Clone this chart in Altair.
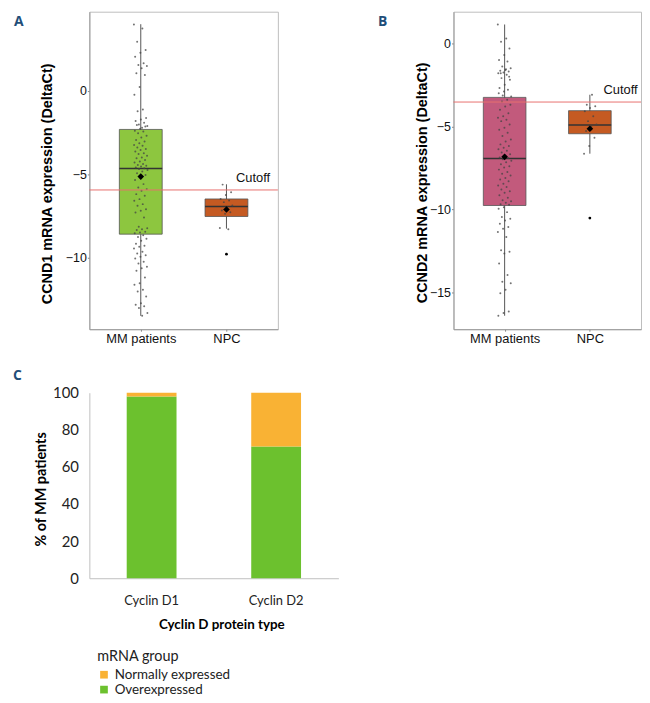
import altair as alt
import pandas as pd

# ---------------- data ----------------
groups = ["MM patients", "NPC"]

# Panel A: CCND1 (DeltaCt)
ccnd1_mm_points = [3.97, 3.73, 2.94, 2.44, 2.28, 2.04, 1.65, 1.55, 1.49, 1.35, 1.05, 0.95,
                   0.22, -0.24, -1.13, -1.23, -1.63, -1.73, -1.82, -1.92, -2.02, -2.12,
                   -2.22, -2.05, -2.15, -2.28,
                   -2.4, -2.45, -2.55, -2.7, -2.8, -2.95, -3.05, -3.15, -3.25, -3.3, -3.4,
                   -3.5, -3.55, -3.65, -3.75, -3.8, -3.9, -4.0, -4.05, -4.15, -4.25, -4.3,
                   -4.4, -4.45, -4.5, -4.55, -4.6, -4.65,
                   -4.7, -4.75, -4.85, -4.95, -5.05, -5.2, -5.35, -5.6, -5.8, -5.9, -6.0,
                   -6.2, -6.3, -6.5, -6.6, -6.8, -6.9, -7.1, -7.2, -7.3, -7.6, -8.15, -8.25,
                   -8.3, -8.35, -8.45, -8.5, -8.55,
                   -8.67, -8.77, -8.87, -9.0, -9.17, -9.3, -9.36, -9.46, -9.66, -9.76, -9.86,
                   -9.96, -10.06, -10.26, -10.36, -10.55, -10.65, -10.8, -11.2, -11.55,
                   -11.64, -11.94, -12.04, -12.34, -12.74, -12.83, -12.93, -13.03, -13.33, -13.5]
ccnd1_npc_points = [-5.63, -6.09, -6.25, -6.49, -6.58, -6.68, -6.88, -7.04, -7.18, -7.28,
                    -7.38, -8.23, -8.31]
ccnd1_q1 = [-8.6, -7.54]
ccnd1_q3 = [-2.32, -6.49]
ccnd1_median = [-4.66, -6.94]
ccnd1_mean = [-5.15, -7.12]
ccnd1_whisker_lo = [-13.5, -8.27]
ccnd1_whisker_hi = [3.99, -5.61]
ccnd1_npc_outliers = [-9.8]
ccnd1_cutoff = -5.95

# Panel B: CCND2 (DeltaCt)
ccnd2_mm_points = [1.14, 0.30, 0.10, -0.30, -0.70, -1.0, -1.09, -1.39, -1.49, -1.6, -1.65,
                   -1.69, -1.75, -1.79, -1.89, -2.09, -2.19, -2.49, -2.69, -2.79, -3.13,
                   -3.19, -1.55, -1.8, -2.0, -2.9, -3.0,
                   -3.39, -3.5, -3.69, -3.8, -3.99, -4.2, -4.38, -4.48, -4.6, -4.68, -4.88,
                   -5.08, -5.2, -5.38, -5.58, -5.78, -5.9, -6.08, -6.18, -6.28, -6.38, -6.47,
                   -6.57, -6.68, -6.75, -6.87, -6.9,
                   -6.97, -7.07, -7.15, -7.27, -7.4, -7.47, -7.6, -7.75, -7.85, -7.95, -8.1,
                   -8.2, -8.3, -8.45, -8.55, -8.65, -8.8, -8.9, -9.0, -9.15, -9.3, -9.44,
                   -9.5, -9.6, -9.68, -9.72,
                   -9.86, -9.96, -10.16, -10.46, -10.56, -10.66, -10.86, -11.06, -11.16,
                   -11.36, -11.66, -12.45, -12.55, -12.65, -13.25, -13.95, -14.35, -14.45,
                   -14.84, -15.04, -16.14, -16.24, -16.4]
ccnd2_npc_points = [-3.09, -3.69, -3.79, -3.89, -4.08, -4.38, -4.68, -4.88, -5.02, -5.28,
                    -5.68, -6.18, -6.64]
ccnd2_q1 = [-9.76, -5.44]
ccnd2_q3 = [-3.25, -4.05]
ccnd2_median = [-6.93, -4.92]
ccnd2_mean = [-6.83, -5.14]
ccnd2_whisker_lo = [-16.4, -6.64]
ccnd2_whisker_hi = [1.14, -3.09]
ccnd2_npc_outliers = [-10.52]
ccnd2_cutoff = -3.53

# Panel C
cyclin_types = ["Cyclin D1", "Cyclin D2"]
mrna_groups = ["Normally expressed", "Overexpressed"]
pct_overexpressed = [98, 71]
pct_normally = [2, 29]

# ---------------- styles ----------------
FONT_AB = "Liberation Sans"
FONT_C = "Lato"
LABEL_COLOR = "#1F4E79"
ccnd1_colors = ["#8DC63F", "#C55A22"]
ccnd2_colors = ["#C25A7C", "#C55A22"]
c_colors = ["#F9B234", "#6CC12E"]
CUTOFF_COLOR = "#E8706E"
BOX_HALF = 0.25
JITTER = 0.16
PANEL_H = 320


def box_panel(mm_pts, npc_pts, q1, q3, med, mean, lo, hi, outliers, cutoff, colors,
              ytitle, ydomain, yticks, letter, w, h, title_x, title_y, cut_x):
    summ = pd.DataFrame({"group": groups, "idx": [1, 2], "q1": q1, "q3": q3,
                         "med": med, "mean": mean, "lo": lo, "hi": hi})
    pts = pd.DataFrame({"idx": [1] * len(mm_pts) + [2] * len(npc_pts),
                        "value": mm_pts + npc_pts})
    pts["i"] = range(len(pts))
    outl = pd.DataFrame({"idx": [2] * len(outliers), "value": outliers})
    cut = pd.DataFrame({"value": [cutoff], "tx": [cut_x], "txt": ["Cutoff"]})
    lab = pd.DataFrame({"txt": [letter]})

    xs = alt.Scale(domain=[0.4, 2.6], nice=False, zero=False)
    ys = alt.Scale(domain=ydomain, nice=False, zero=False)
    xaxis = alt.Axis(values=[1, 2], title=None, grid=False,
                     labelExpr=f"datum.value == 1 ? '{groups[0]}' : '{groups[1]}'",
                     labelFont=FONT_AB, labelFontSize=13, labelColor="#111",
                     tickSize=2, tickColor="#888", labelPadding=1,
                     domainColor="#999")
    yaxis = alt.Axis(values=yticks, title=ytitle, grid=False,
                     labelFont=FONT_AB, labelFontSize=12.5, labelColor="#111",
                     tickSize=2, tickColor="#888", labelPadding=1, domainColor="#999",
                     titleFont=FONT_AB, titleFontSize=14.5, titleFontWeight="bold",
                     titleColor="#000", titleX=title_x, titleY=title_y,
                     titleAlign="center", titleBaseline="middle")

    whisk = alt.Chart(summ).mark_rule(color="#555", strokeWidth=1).encode(
        x=alt.X("idx:Q", scale=xs, axis=xaxis),
        y=alt.Y("lo:Q", scale=ys, axis=yaxis), y2="hi:Q")
    box = alt.Chart(summ).transform_calculate(
        x1=f"datum.idx - {BOX_HALF}", x2=f"datum.idx + {BOX_HALF}"
    ).mark_bar(stroke="#555", strokeWidth=0.8).encode(
        x=alt.X("x1:Q", scale=xs, axis=xaxis), x2="x2:Q",
        y=alt.Y("q1:Q", scale=ys, axis=yaxis), y2="q3:Q",
        fill=alt.Fill("group:N", scale=alt.Scale(domain=groups, range=colors), legend=None))
    median = alt.Chart(summ).transform_calculate(
        x1=f"datum.idx - {BOX_HALF}", x2=f"datum.idx + {BOX_HALF}"
    ).mark_rule(color="#333", strokeWidth=1.5).encode(
        x=alt.X("x1:Q", scale=xs, axis=xaxis), x2="x2:Q",
        y=alt.Y("med:Q", scale=ys, axis=yaxis))
    points = alt.Chart(pts).transform_calculate(
        jx=f"datum.idx + ((datum.i * 0.6180339887) % 1 - 0.5) * {JITTER}"
    ).mark_circle(size=4, color="#444", opacity=0.75).encode(
        x=alt.X("jx:Q", scale=xs, axis=xaxis),
        y=alt.Y("value:Q", scale=ys, axis=yaxis))
    means = alt.Chart(summ).mark_point(shape="diamond", filled=True, size=45,
                                       color="black", opacity=1).encode(
        x=alt.X("idx:Q", scale=xs, axis=xaxis),
        y=alt.Y("mean:Q", scale=ys, axis=yaxis))
    outs = alt.Chart(outl).mark_circle(size=8, color="black", opacity=1).encode(
        x=alt.X("idx:Q", scale=xs, axis=xaxis),
        y=alt.Y("value:Q", scale=ys, axis=yaxis))
    cutline = alt.Chart(cut).mark_rule(color=CUTOFF_COLOR, strokeWidth=1).encode(
        y=alt.Y("value:Q", scale=ys, axis=yaxis))
    cuttext = alt.Chart(cut).mark_text(font=FONT_AB, fontSize=13, color="#111",
                                       dy=-12).encode(
        x=alt.X("tx:Q", scale=xs, axis=xaxis),
        y=alt.Y("value:Q", scale=ys, axis=yaxis), text="txt:N")
    letter_t = alt.Chart(lab).mark_text(font="Open Sans", fontSize=14, fontWeight="bold",
                                        color=LABEL_COLOR, align="left",
                                        baseline="top").encode(
        x=alt.value(-76), y=alt.value(3), text="txt:N")
    return alt.layer(whisk, box, median, points, means, outs, cutline, cuttext,
                     letter_t).properties(width=w, height=h)


A = box_panel(ccnd1_mm_points, ccnd1_npc_points, ccnd1_q1, ccnd1_q3, ccnd1_median,
              ccnd1_mean, ccnd1_whisker_lo, ccnd1_whisker_hi, ccnd1_npc_outliers,
              ccnd1_cutoff, ccnd1_colors, "CCND1 mRNA expression (DeltaCt)",
              [-14.3, 4.74], [-10, -5, 0], "A", 190, PANEL_H, -42.5, 173, 2.31)
B = box_panel(ccnd2_mm_points, ccnd2_npc_points, ccnd2_q1, ccnd2_q3, ccnd2_median,
              ccnd2_mean, ccnd2_whisker_lo, ccnd2_whisker_hi, ccnd2_npc_outliers,
              ccnd2_cutoff, ccnd2_colors, "CCND2 mRNA expression (DeltaCt)",
              [-17.21, 1.91], [-15, -10, -5, 0], "B", 189, PANEL_H, -31, 172, 2.36)

# ---------------- panel C ----------------
cdf = pd.DataFrame({
    "type": cyclin_types * 2,
    "group": [mrna_groups[1]] * 2 + [mrna_groups[0]] * 2,
    "pct": pct_overexpressed + pct_normally,
    "rank": [0, 0, 1, 1],
})
CH = 187
bars = alt.Chart(cdf).mark_bar().encode(
    x=alt.X("type:N", scale=alt.Scale(paddingInner=0.6, paddingOuter=0.3),
            axis=alt.Axis(title="Cyclin D protein type", labelAngle=0, ticks=False,
                          tickSize=0, labelPadding=16, labelFont=FONT_C,
                          labelFontSize=13, labelColor="#222", domainColor="#bfbfbf",
                          titleFont=FONT_C, titleFontSize=13.5, titleFontWeight="bold",
                          titleColor="#000", titleX=133, titleY=47,
                          titleBaseline="middle", titleAlign="center")),
    y=alt.Y("pct:Q", stack="zero", scale=alt.Scale(domain=[0, 100], nice=False),
            axis=alt.Axis(values=[0, 20, 40, 60, 80, 100], grid=False, ticks=False,
                          tickSize=0, labelPadding=11, labelFont=FONT_C,
                          labelFontSize=15, labelColor="#222", domainColor="#bfbfbf",
                          title="% of MM patients", titleFont=FONT_C,
                          titleFontSize=14.5, titleFontWeight="bold", titleColor="#000",
                          titleX=-48, titleY=97, titleAlign="center",
                          titleBaseline="middle")),
    color=alt.Color("group:N", scale=alt.Scale(domain=mrna_groups, range=c_colors),
                    legend=alt.Legend(orient="none", legendX=8, legendY=259,
                                      title="mRNA group", titleFont=FONT_C,
                                      titleFontSize=14.5, titleFontWeight="normal",
                                      titleColor="#222", labelFont=FONT_C,
                                      labelFontSize=13.5, labelColor="#222",
                                      symbolType="square", symbolSize=60,
                                      symbolStrokeWidth=0, rowPadding=0,
                                      titlePadding=4)),
    order=alt.Order("rank:Q"),
)
c_letter = alt.Chart(pd.DataFrame({"txt": ["C"]})).mark_text(
    font="Open Sans", fontSize=14, fontWeight="bold", color=LABEL_COLOR,
    align="left", baseline="top").encode(x=alt.value(-77), y=alt.value(-24), text="txt:N")
C = alt.layer(bars, c_letter).properties(
    width=251, height=CH, view=alt.ViewBackground(stroke="transparent"))

chart = alt.concat(
    A, B, C, columns=2, bounds="flush", spacing={"row": 64, "column": 116}
).resolve_scale(
    x="independent", y="independent", fill="independent", color="independent"
).properties(
    padding={"left": 4, "top": 0, "right": 0, "bottom": 0}
).configure_view(stroke="#bdbdbd", strokeWidth=1)

chart.save("out.html", embed_options={"renderer": "svg", "actions": False})
